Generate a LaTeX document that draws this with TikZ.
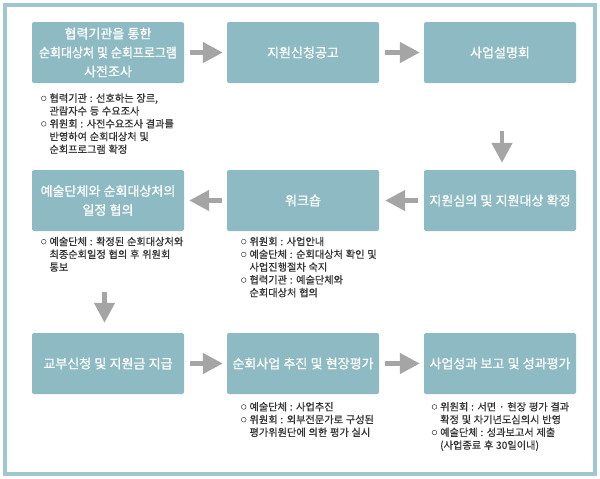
\documentclass[tikz,border=0pt]{standalone}
\usepackage{fontspec}
\setmainfont{Noto Sans CJK KR}[WordSpace=1.2]
\newfontfamily\boxfont{Noto Sans CJK KR}[WordSpace=1.1,FakeBold=0.8]
\newfontfamily\bulfont{Noto Sans CJK KR}[WordSpace=1.2,FakeBold=0.7]
\usetikzlibrary{arrows.meta}
\definecolor{boxc}{HTML}{8EBBC3}
\definecolor{framec}{HTML}{9EC7CE}
\definecolor{arrc}{HTML}{A5A5A5}
\definecolor{txtc}{HTML}{333333}
\newcommand\bu{\makebox[8.5pt][l]{\raisebox{1.5pt}{\fontsize{5.5}{5}\selectfont ○}}}
\newcommand\ind{\hspace*{8.5pt}}
\begin{document}
\begin{tikzpicture}[x=1pt,y=-1pt,
  stepbox/.style={fill=boxc, rounded corners=2pt, minimum width=152pt, minimum height=61pt,
    inner sep=0pt, text=white, align=center, font=\boxfont\fontsize{13}{19}\selectfont},
  bul/.style={anchor=north west, inner sep=0pt, align=left, text=txtc,
    font=\bulfont\fontsize{10.2}{12.8}\selectfont},
  arr/.style={draw=arrc, line width=4.5pt, -{Triangle[width=20pt,length=20pt]}}]
\useasboundingbox (0,0) rectangle (600,479);
\fill[white] (0,0) rectangle (600,479);
\draw[framec, line width=4pt] (5,5) rectangle (595,474);

\node[stepbox] (b1) at (108,52.5) {협력기관을 통한\\\scalebox{0.92}[1]{순회대상처 및 순회프로그램}\\사전조사};
\node[stepbox] (b2) at (303,52.5) {지원신청공고};
\node[stepbox] (b3) at (500,52.5) {사업설명회};
\node[stepbox] (b4) at (500,200.5) {지원심의 및 지원대상 확정};
\node[stepbox] (b5) at (303,200.5) {워크숍};
\node[stepbox] (b6) at (108,200.5) {예술단체와 순회대상처의\\일정 협의};
\node[stepbox] (b7) at (108,363.5) {교부신청 및 지원금 지급};
\node[stepbox] (b8) at (303,363.5) {순회사업 추진 및 현장평가};
\node[stepbox] (b9) at (500,363.5) {사업성과 보고 및 성과평가};

\node[bul] (n1) at (40.8,93.2) {\bu 협력기관 : 선호하는 장르,\\\ind 관람자수 등 수요조사\\\bu 위원회 : 사전수요조사 결과를\\\ind 반영하여 순회대상처 및\\\ind 순회프로그램 확정};
\node[bul] (n5) at (240.8,236.6) {\bu 위원회 : 사업안내\\\bu 예술단체 : 순회대상처 확인 및\\\ind 사업진행절차 숙지\\\bu 협력기관 : 예술단체와\\\ind 순회대상처 협의};
\node[bul] (n6) at (40.8,236.6) {\bu 예술단체 : 확정된 순회대상처와\\\ind 최종순회일정 협의 후 위원회\\\ind 통보};
\node[bul] (n8) at (240.8,401.9) {\bu 예술단체 : 사업추진\\\bu 위원회 : 외부전문가로 구성된\\\ind 평가위원단에 의한 평가 실시};
\node[bul] (n9) at (431.5,401.9) {\bu 위원회 : 서면 · 현장 평가 결과\\\ind 확정 및 차기년도심의시 반영\\\bu 예술단체 : 성과보고서 제출\\\ind (사업종료 후 30일이내)};

\draw[arr, shorten <=6pt, shorten >=4pt] (b1.east) -- (b2.west);
\draw[arr, shorten <=6pt, shorten >=4pt] (b2.east) -- (b3.west);
\draw[arr, shorten <=48pt, shorten >=7pt] ([xshift=2pt]b3.south) -- ([xshift=2pt]b4.north);
\draw[arr, shorten <=6pt, shorten >=6pt] (b4.west) -- (b5.east);
\draw[arr, shorten <=5pt, shorten >=5pt] (b5.west) -- (b6.east);
\draw[arr, shorten <=61pt, shorten >=10pt] ([xshift=-3.5pt]b6.south) -- ([xshift=-3.5pt]b7.north);
\draw[arr, shorten <=6pt, shorten >=4pt] (b7.east) -- (b8.west);
\draw[arr, shorten <=6pt, shorten >=4pt] (b8.east) -- (b9.west);
\end{tikzpicture}
\end{document}
